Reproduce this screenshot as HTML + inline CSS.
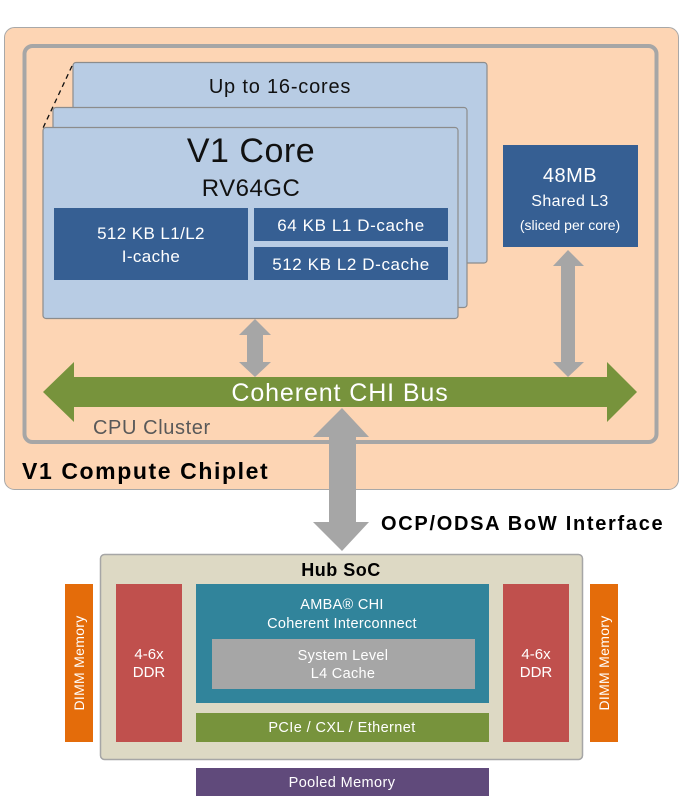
<!DOCTYPE html>
<html><head><meta charset="utf-8"><style>
html,body{margin:0;padding:0;background:#fff;}
svg{display:block;}
text{font-family:"Liberation Sans",sans-serif;}
</style></head><body>
<svg width="695" height="808" viewBox="0 0 695 808" xmlns="http://www.w3.org/2000/svg">
<rect x="4.5" y="27.5" width="674" height="462" rx="10" fill="#fdd5b4" stroke="#a8a8a8" stroke-width="1"/>
<rect x="24.5" y="46" width="632" height="396" rx="8" fill="none" stroke="#a6a6a6" stroke-width="4"/>
<rect x="73" y="62.5" width="414" height="200.5" rx="3" fill="#b8cce4" stroke="#8c8c8c" stroke-width="1.2"/>
<text x="280" y="93" font-size="20" text-anchor="middle" fill="#111" letter-spacing="0.8">Up to 16-cores</text>
<rect x="53" y="107.5" width="414" height="200" rx="3" fill="#b8cce4" stroke="#8c8c8c" stroke-width="1.2"/>
<rect x="43" y="127.5" width="415" height="191" rx="3" fill="#b8cce4" stroke="#8c8c8c" stroke-width="1.2"/>
<line x1="72" y1="66" x2="43" y2="128" stroke="#111" stroke-width="1.3" stroke-dasharray="5,4"/>
<text x="251" y="162" font-size="34" text-anchor="middle" fill="#111" letter-spacing="0.5">V1 Core</text>
<text x="251" y="196" font-size="24" text-anchor="middle" fill="#111" letter-spacing="0.5">RV64GC</text>
<rect x="54" y="208" width="194" height="72" fill="#365f93"/>
<text x="151" y="239" font-size="17" text-anchor="middle" fill="#fff" letter-spacing="0.4">512 KB L1/L2</text>
<text x="151" y="262" font-size="17" text-anchor="middle" fill="#fff" letter-spacing="0.4">I-cache</text>
<rect x="254" y="208" width="194" height="33" fill="#365f93"/>
<text x="351" y="231" font-size="17" text-anchor="middle" fill="#fff" letter-spacing="0.6">64 KB L1 D-cache</text>
<rect x="254" y="247" width="194" height="33" fill="#365f93"/>
<text x="351" y="270" font-size="17" text-anchor="middle" fill="#fff" letter-spacing="0.6">512 KB L2 D-cache</text>
<rect x="503" y="145" width="135" height="102" fill="#365f93"/>
<text x="570" y="182" font-size="20" text-anchor="middle" fill="#fff" letter-spacing="0.5">48MB</text>
<text x="570" y="206" font-size="16" text-anchor="middle" fill="#fff" letter-spacing="0.4">Shared L3</text>
<text x="570" y="230" font-size="14" text-anchor="middle" fill="#fff">(sliced per core)</text>
<polygon points="255,319 271,335 263,335 263,362 271,362 255,377 239,362 247,362 247,335 239,335" fill="#a6a6a6"/>
<polygon points="568,250 584,266 575,266 575,362 584,362 568,377 553,362 561,362 561,266 553,266" fill="#a6a6a6"/>
<polygon points="43,392 74,362 74,377 607,377 607,362 637,392 607,422 607,407 74,407 74,422" fill="#77933c"/>
<text x="340" y="401" font-size="25" text-anchor="middle" fill="#fff" letter-spacing="0.9">Coherent CHI Bus</text>
<text x="93" y="434" font-size="20" fill="#595959" letter-spacing="0.6">CPU Cluster</text>
<text x="22" y="479" font-size="23" font-weight="bold" fill="#000" letter-spacing="1.6">V1 Compute Chiplet</text>
<polygon points="342,408 369,437 356,437 356,522 369,522 342,551 313,522 329,522 329,437 313,437" fill="#a6a6a6"/>
<text x="381" y="530" font-size="20" font-weight="bold" fill="#000" letter-spacing="1.7">OCP/ODSA BoW Interface</text>
<rect x="100.5" y="554.5" width="482" height="205" rx="4" fill="#ddd9c4" stroke="#a6a6a6" stroke-width="1.5"/>
<text x="341" y="576" font-size="18" font-weight="bold" text-anchor="middle" fill="#000" letter-spacing="0.5">Hub SoC</text>
<rect x="65" y="584" width="28" height="158" fill="#e46c0a"/>
<text transform="translate(84,663) rotate(-90)" font-size="14" text-anchor="middle" fill="#fff" letter-spacing="0.3">DIMM Memory</text>
<rect x="590" y="584" width="28" height="158" fill="#e46c0a"/>
<text transform="translate(609,663) rotate(-90)" font-size="14" text-anchor="middle" fill="#fff" letter-spacing="0.3">DIMM Memory</text>
<rect x="116" y="584" width="66" height="158" fill="#c0504d"/>
<text x="149" y="659" font-size="15" text-anchor="middle" fill="#fff">4-6x</text>
<text x="149" y="677" font-size="15" text-anchor="middle" fill="#fff">DDR</text>
<rect x="503" y="584" width="66" height="158" fill="#c0504d"/>
<text x="536" y="659" font-size="15" text-anchor="middle" fill="#fff">4-6x</text>
<text x="536" y="677" font-size="15" text-anchor="middle" fill="#fff">DDR</text>
<rect x="196" y="584" width="293" height="119" fill="#31849b"/>
<text x="342" y="609" font-size="14.5" text-anchor="middle" fill="#fff" letter-spacing="0.3">AMBA® CHI</text>
<text x="342" y="628" font-size="14.5" text-anchor="middle" fill="#fff" letter-spacing="0.3">Coherent Interconnect</text>
<rect x="212" y="639" width="263" height="50" fill="#a6a6a6"/>
<text x="343" y="660" font-size="14.5" text-anchor="middle" fill="#fff" letter-spacing="0.3">System Level</text>
<text x="343" y="678" font-size="14.5" text-anchor="middle" fill="#fff" letter-spacing="0.3">L4 Cache</text>
<rect x="196" y="713" width="293" height="29" fill="#77933c"/>
<text x="342" y="732" font-size="14.5" text-anchor="middle" fill="#fff" letter-spacing="0.4">PCIe / CXL / Ethernet</text>
<rect x="196" y="768" width="293" height="28" fill="#604a7b"/>
<text x="342" y="787" font-size="14.5" text-anchor="middle" fill="#fff" letter-spacing="0.4">Pooled Memory</text>
</svg>
</body></html>
